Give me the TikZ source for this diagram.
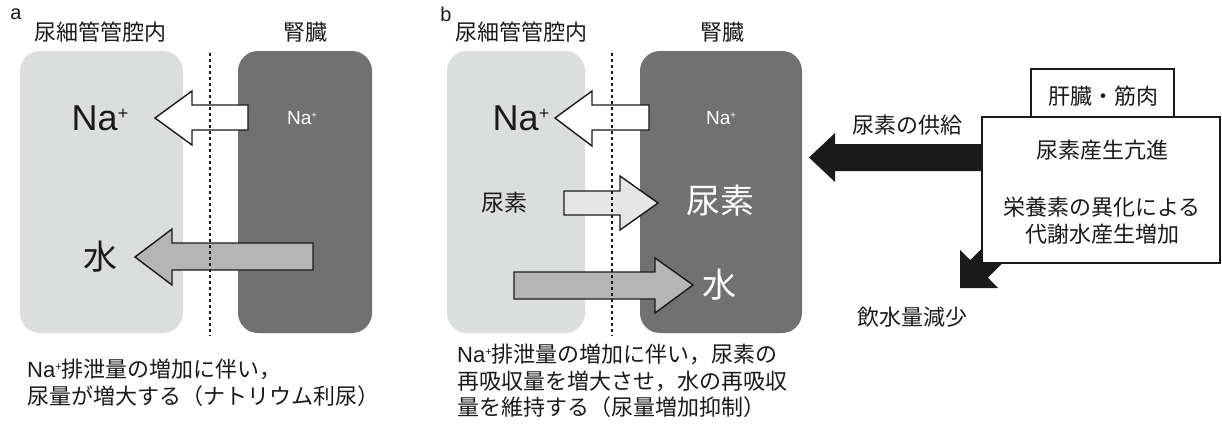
\documentclass[tikz,border=0pt]{standalone}
\usepackage{fontspec}
\usepackage{graphicx}
\setmainfont{Liberation Sans}
\newfontfamily\jp{Noto Sans CJK JP}
\definecolor{lightbox}{HTML}{DCDDDD}
\definecolor{darkbox}{HTML}{717171}
\definecolor{waterfill}{HTML}{B5B5B5}
\definecolor{ureafill}{HTML}{E6E6E6}
\definecolor{ink}{HTML}{1A1A1A}
\newcommand{\fsz}[1]{\fontsize{#1}{#1}\selectfont}
\newcommand{\plussup}{\raisebox{0.31em}{\scalebox{0.5}{+}}}
\begin{document}
\begin{tikzpicture}[x=1pt,y=-1pt,
  lbox/.style={fill=lightbox, rounded corners=20pt},
  dbox/.style={fill=darkbox, rounded corners=20pt},
  barrow/.style={draw=ink, line width=1.4pt, line join=miter},
  divider/.style={draw=ink, line width=1.8pt, dash pattern=on 3pt off 3pt},
  plainbox/.style={draw=ink, line width=1.6pt, fill=white},
  txt/.style={inner sep=0pt, text=ink},
  jpt/.style={txt, font=\jp\fsz{22}},
  bigna/.style={txt, font=\fsz{36}},
  smallna/.style={inner sep=0pt, text=white, font=\fsz{19}},
  bigjp/.style={txt, font=\jp\fsz{34}},
  note/.style={inner sep=0pt, text=ink, align=left, anchor=north west}]
\useasboundingbox (0,0) rectangle (1222,426);

% ---------- panel a ----------
\fill[lbox] (20,51) rectangle (183,333);
\fill[dbox] (238,51) rectangle (372,333);
\filldraw[barrow, fill=white] (248,105) -- (192,105) -- (192,91) -- (155,118) -- (192,145) -- (192,130) -- (248,130) -- cycle;
\filldraw[barrow, fill=waterfill] (313,243) -- (172,243) -- (172,229) -- (135,257) -- (172,285) -- (172,270) -- (313,270) -- cycle;
\draw[divider] (210,53) -- (210,336);
\node[txt, font=\fsz{20}] (la) at (16,14) {a};
\node[jpt] (ta1) at (100,32) {尿細管管腔内};
\node[jpt] (ta2) at (305,32) {腎臓};
\node[bigna] (naa) at (100,118) {Na\plussup};
\node[smallna] (naa2) at (302,118) {Na\plussup};
\node[bigjp] (wa) at (100,257) {水};
\node[note, font=\jp\fontsize{22}{27}\selectfont] (nota) at (27,359)
  {{\fontspec{Liberation Sans}Na\plussup}排泄量の増加に伴い，\\尿量が増大する（ナトリウム利尿）};

% ---------- panel b ----------
\fill[lbox] (447,51) rectangle (585,333);
\fill[dbox] (640,51) rectangle (802,333);
\filldraw[barrow, fill=white] (649,105) -- (592,105) -- (592,91) -- (555,118) -- (592,146) -- (592,130) -- (649,130) -- cycle;
\filldraw[barrow, fill=ureafill] (564,191) -- (620,191) -- (620,176) -- (658,203) -- (620,230) -- (620,215) -- (564,215) -- cycle;
\filldraw[barrow, fill=waterfill] (514,272) -- (655,272) -- (655,258) -- (693,285) -- (655,313) -- (655,299) -- (514,299) -- cycle;
\draw[divider] (612,53) -- (612,336);
\node[txt, font=\fsz{20}] (lb) at (446,14) {b};
\node[jpt] (tb1) at (521,32) {尿細管管腔内};
\node[jpt] (tb2) at (722,32) {腎臓};
\node[bigna] (nab) at (521,118) {Na\plussup};
\node[smallna] (nab2) at (721,118) {Na\plussup};
\node[txt, font=\jp\fsz{23}] (ub) at (504,203) {尿素};
\node[inner sep=0pt, text=white, font=\jp\fsz{34}] (ub2) at (720,201) {尿素};
\node[inner sep=0pt, text=white, font=\jp\fsz{34}] (wb) at (719,285) {水};
\node[note, font=\jp\fontsize{22}{26.5}\selectfont] (notb) at (457,344)
  {{\fontspec{Liberation Sans}Na\plussup}排泄量の増加に伴い，尿素の\\再吸収量を増大させ，水の再吸収\\量を維持する（尿量増加抑制）};

% ---------- right part ----------
\fill[ink] (990,144) -- (835,144) -- (835,133) -- (809,157.5) -- (835,182) -- (835,171) -- (990,171) -- cycle;
\fill[ink] (960,288) -- (998.2,288) -- (987.9,277.7) -- (1028.9,236.7) -- (1011.3,219.1) -- (970.3,260.1) -- (960,249.8) -- cycle;
\draw[plainbox] (1031,69) rectangle (1174,117);
\draw[plainbox] (982,117) rectangle (1220,263);
\node[jpt] (liver) at (1103,96) {肝臓・筋肉};
\node[jpt] (ureaprod) at (1102,150) {尿素産生亢進};
\node[jpt, align=center, font=\jp\fontsize{22}{27}\selectfont] (metab) at (1102,221) {栄養素の異化による\\代謝水産生増加};
\node[jpt] (supply) at (907,125) {尿素の供給};
\node[jpt] (drink) at (912,317) {飲水量減少};
\end{tikzpicture}
\end{document}
